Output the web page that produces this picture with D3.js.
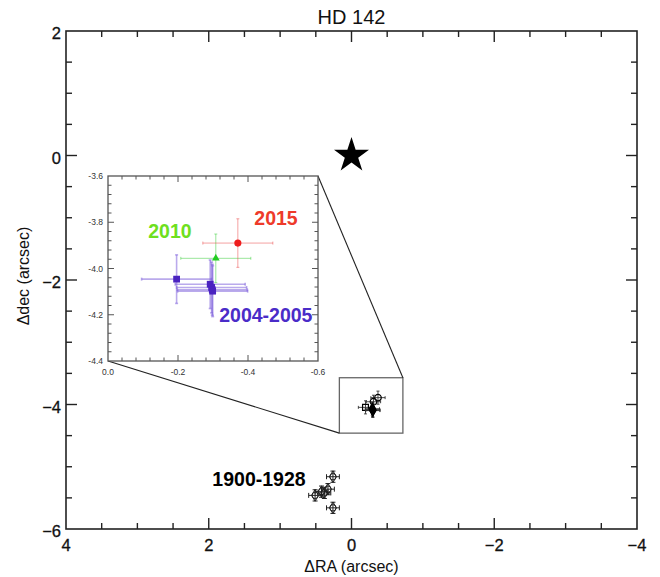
<!DOCTYPE html>
<html><head><meta charset="utf-8">
<script src="https://cdn.jsdelivr.net/npm/d3@7"></script>
<style>
html,body{margin:0;padding:0;background:#fff;}
svg{display:block;font-family:"Liberation Sans",Arial,sans-serif;}
</style></head>
<body><svg id="c" width="660" height="577"></svg>
<script>
// ---------------- data ----------------
const title = "HD 142";
const xTickVals = [4, 2, 0, -2, -4];
const yTickVals = [2, 0, -2, -4, -6];
const star = [{ra: 0, dec: 0}];
// 1900-1928 historical measurements (ΔRA, Δdec, errors)
const histRA  = [0.26, 0.33, 0.38, 0.42, 0.51, 0.26];
const histDec = [-5.16, -5.36, -5.42, -5.40, -5.46, -5.66];
const histErr = [0.09, 0.09, 0.09, 0.09, 0.09, 0.09];
// recent measurements
const p0405RA  = [-0.196, -0.292, -0.296, -0.298, -0.299];
const p0405Dec = [-4.046, -4.068, -4.082, -4.092, -4.098];
const p0405ErrRA  = [0.10, 0.10, 0.10, 0.10, 0.10];
const p0405ErrDec = [0.105, 0.105, 0.11, 0.11, 0.11];
const p2010RA = [-0.308], p2010Dec = [-3.956], p2010ErrRA = [0.10], p2010ErrDec = [0.105];
const p2015RA = [-0.371], p2015Dec = [-3.89],  p2015ErrRA = [0.10], p2015ErrDec = [0.105];
// zoom box in main plot (data units)
const boxRA = [0.17, -0.72];
const boxDec = [-3.57, -4.46];
// inset axes
const insetXTicks = [0.0, -0.2, -0.4, -0.6];
const insetYTicks = [-3.6, -3.8, -4.0, -4.2, -4.4];
const labels = [
  {text: "2015", color: "#ee3a2a", ra: -0.48, dec: -3.812},
  {text: "2010", color: "#6ee01e", ra: -0.177, dec: -3.866},
  {text: "2004-2005", color: "#4a2cc8", ra: -0.451, dec: -4.232}
];
const histLabel = {text: "1900-1928", ra: 1.296, dec: -5.31};

// ---------------- layout ----------------
const svg = d3.select("#c");
const x = d3.scaleLinear().domain([4, -4]).range([66, 637]);
const y = d3.scaleLinear().domain([2, -6]).range([31, 529]);
const ix = d3.scaleLinear().domain([0, -0.6]).range([108, 318]);
const iy = d3.scaleLinear().domain([-3.6, -4.4]).range([176, 361]);

const fmtMain = d => d === 0 ? "0" : (d < 0 ? "\u2212" + Math.abs(d) : String(d));

// main frame
const g = svg.append("g");
g.append("rect").attr("x", x(4)).attr("y", y(2)).attr("width", x(-4) - x(4)).attr("height", y(-6) - y(2))
  .attr("fill", "none").attr("stroke", "#222").attr("stroke-width", 1.6);

// ticks (all four sides, inward)
const xMinor = d3.range(-4, 4.001, 0.5);
const yMinor = d3.range(-6, 2.001, 0.5);
const isMajor = v => Math.abs(v / 2 - Math.round(v / 2)) < 1e-6;
xMinor.forEach(v => {
  const L = isMajor(v) ? 11 : 6;
  if (v === 4 || v === -4) return;
  g.append("line").attr("x1", x(v)).attr("x2", x(v)).attr("y1", y(-6)).attr("y2", y(-6) - L).attr("stroke", "#222").attr("stroke-width", 1.4);
  g.append("line").attr("x1", x(v)).attr("x2", x(v)).attr("y1", y(2)).attr("y2", y(2) + L).attr("stroke", "#222").attr("stroke-width", 1.4);
});
yMinor.forEach(v => {
  const L = isMajor(v) ? 11 : 6;
  if (v === 2 || v === -6) return;
  g.append("line").attr("y1", y(v)).attr("y2", y(v)).attr("x1", x(4)).attr("x2", x(4) + L).attr("stroke", "#222").attr("stroke-width", 1.4);
  g.append("line").attr("y1", y(v)).attr("y2", y(v)).attr("x1", x(-4)).attr("x2", x(-4) - L).attr("stroke", "#222").attr("stroke-width", 1.4);
});
// tick labels
g.selectAll(".xt").data(xTickVals).enter().append("text")
  .attr("x", d => x(d)).attr("y", 551).attr("text-anchor", "middle")
  .attr("font-size", 16.5).attr("fill", "#111").attr("stroke", "#111").attr("stroke-width", 0.3).text(fmtMain);
g.selectAll(".yt").data(yTickVals).enter().append("text")
  .attr("x", 61).attr("y", d => y(d) + 8).attr("text-anchor", "end")
  .attr("font-size", 16.5).attr("fill", "#111").attr("stroke", "#111").attr("stroke-width", 0.3).text(fmtMain);
// axis titles
g.append("text").attr("x", x(0)).attr("y", 572).attr("text-anchor", "middle").attr("font-size", 16).attr("fill", "#111").text("\u0394RA (arcsec)");
g.append("text").attr("transform", "translate(29," + 276 + ") rotate(-90)").attr("text-anchor", "middle").attr("font-size", 16).attr("fill", "#111").text("\u0394dec (arcsec)");
g.append("text").attr("x", x(0)).attr("y", 24).attr("text-anchor", "middle").attr("font-size", 20).attr("fill", "#111").text(title);

// star
g.selectAll(".star").data(star).enter().append("path")
  .attr("d", d3.symbol(d3.symbolStar, 380)())
  .attr("transform", d => "translate(" + x(d.ra) + "," + y(d.dec) + ")")
  .attr("fill", "#000");

// helper: error bars with caps
function errBar(sel, cx, cy, ex0, ex1, ey0, ey1, color, width, cap) {
  sel.append("line").attr("x1", ex0).attr("x2", ex1).attr("y1", cy).attr("y2", cy).attr("stroke", color).attr("stroke-width", width);
  sel.append("line").attr("x1", cx).attr("x2", cx).attr("y1", ey0).attr("y2", ey1).attr("stroke", color).attr("stroke-width", width);
  [ex0, ex1].forEach(e => sel.append("line").attr("x1", e).attr("x2", e).attr("y1", cy - cap).attr("y2", cy + cap).attr("stroke", color).attr("stroke-width", width));
  [ey0, ey1].forEach(e => sel.append("line").attr("y1", e).attr("y2", e).attr("x1", cx - cap).attr("x2", cx + cap).attr("stroke", color).attr("stroke-width", width));
}

// historical points
const hg = g.append("g");
histRA.forEach((r, i) => {
  const cx = x(r), cy = y(histDec[i]), e = histErr[i];
  errBar(hg, cx, cy, x(r + e), x(r - e), y(histDec[i] + e), y(histDec[i] - e), "#222", 1, 2.5);
  hg.append("path").attr("d", d3.symbol(d3.symbolDiamond, 40)()).attr("transform", "translate(" + cx + "," + cy + ")")
    .attr("fill", "none").attr("stroke", "#222").attr("stroke-width", 1);
  hg.append("circle").attr("cx", cx).attr("cy", cy).attr("r", 3.2).attr("fill", "none").attr("stroke", "#222").attr("stroke-width", 1);
});
g.append("text").attr("x", x(histLabel.ra)).attr("y", y(histLabel.dec)).attr("text-anchor", "middle")
  .attr("font-size", 19.5).attr("font-weight", "bold").attr("fill", "#000").text(histLabel.text);

// recent points in main (black)
const rg = g.append("g");
function mainPts(ras, decs, eRA, eDec, filled, sym) {
  ras.forEach((r, i) => {
    errBar(rg, x(r), y(decs[i]), x(r + eRA[i]), x(r - eRA[i]), y(decs[i] + eDec[i]), y(decs[i] - eDec[i]), "#333", 0.9, 1.5);
  });
  ras.forEach((r, i) => {
    rg.append("path").attr("d", d3.symbol(sym, 34)()).attr("transform", "translate(" + x(r) + "," + y(decs[i]) + ")")
      .attr("fill", filled ? "#000" : "none").attr("stroke", "#000").attr("stroke-width", 1.2);
  });
}
mainPts(p2015RA, p2015Dec, p2015ErrRA, p2015ErrDec, false, d3.symbolCircle);
mainPts(p2010RA, p2010Dec, p2010ErrRA, p2010ErrDec, false, d3.symbolCircle);
mainPts(p0405RA.slice(0, 1), p0405Dec.slice(0, 1), p0405ErrRA.slice(0, 1), p0405ErrDec.slice(0, 1), false, d3.symbolSquare);
mainPts(p0405RA.slice(1), p0405Dec.slice(1), p0405ErrRA.slice(1), p0405ErrDec.slice(1), true, d3.symbolDiamond);

// zoom box
g.append("rect").attr("x", x(boxRA[0])).attr("y", y(boxDec[0]))
  .attr("width", x(boxRA[1]) - x(boxRA[0])).attr("height", y(boxDec[1]) - y(boxDec[0]))
  .attr("fill", "none").attr("stroke", "#666").attr("stroke-width", 1.3);
// connector lines
g.append("line").attr("x1", ix(-0.6)).attr("y1", iy(-3.6)).attr("x2", x(boxRA[1])).attr("y2", y(boxDec[0])).attr("stroke", "#222").attr("stroke-width", 1.1);
g.append("line").attr("x1", ix(0)).attr("y1", iy(-4.4)).attr("x2", x(boxRA[0])).attr("y2", y(boxDec[1])).attr("stroke", "#222").attr("stroke-width", 1.1);

// ---------------- inset ----------------
const ig = svg.append("g");
ig.append("rect").attr("x", ix(0)).attr("y", iy(-3.6)).attr("width", ix(-0.6) - ix(0)).attr("height", iy(-4.4) - iy(-3.6))
  .attr("fill", "#fff").attr("stroke", "#555").attr("stroke-width", 1.3);
const ixMinor = d3.range(0, 16).map(k => -k * 0.04);
const iyMinor = d3.range(0, 21).map(k => -3.6 - k * 0.04);
ixMinor.forEach((v, k) => {
  if (k === 0 || k === ixMinor.length - 1) return;
  const L = (k % 5 === 0) ? 6 : 3.5;
  ig.append("line").attr("x1", ix(v)).attr("x2", ix(v)).attr("y1", iy(-4.4)).attr("y2", iy(-4.4) - L).attr("stroke", "#555");
  ig.append("line").attr("x1", ix(v)).attr("x2", ix(v)).attr("y1", iy(-3.6)).attr("y2", iy(-3.6) + L).attr("stroke", "#555");
});
iyMinor.forEach((v, k) => {
  if (k === 0 || k === iyMinor.length - 1) return;
  const L = (k % 5 === 0) ? 6 : 3.5;
  ig.append("line").attr("y1", iy(v)).attr("y2", iy(v)).attr("x1", ix(0)).attr("x2", ix(0) + L).attr("stroke", "#555");
  ig.append("line").attr("y1", iy(v)).attr("y2", iy(v)).attr("x1", ix(-0.6)).attr("x2", ix(-0.6) - L).attr("stroke", "#555");
});
ig.selectAll(".ixt").data(insetXTicks).enter().append("text")
  .attr("x", d => ix(d)).attr("y", iy(-4.4) + 14).attr("text-anchor", "middle")
  .attr("font-size", 8.5).attr("fill", "#333").text(d => d3.format(".1f")(d).replace("\u2212", "-"));
ig.selectAll(".iyt").data(insetYTicks).enter().append("text")
  .attr("x", ix(0) - 5).attr("y", d => iy(d) + 3).attr("text-anchor", "end")
  .attr("font-size", 8.5).attr("fill", "#333").text(d => d3.format(".1f")(d).replace("\u2212", "-"));

function insetSeries(ras, decs, eRA, eDec, barColor, barW, markColor, sym, size) {
  ras.forEach((r, i) => {
    const cx = ix(r), cy = iy(decs[i]);
    errBar(ig, cx, cy, ix(r + eRA[i]), ix(r - eRA[i]), iy(decs[i] + eDec[i]), iy(decs[i] - eDec[i]), barColor, barW, 1.5);
  });
  ras.forEach((r, i) => {
    ig.append("path").attr("d", d3.symbol(sym, size)()).attr("transform", "translate(" + ix(r) + "," + iy(decs[i]) + ")")
      .attr("fill", markColor);
  });
}
insetSeries(p0405RA, p0405Dec, p0405ErrRA, p0405ErrDec, "rgba(130,100,220,0.55)", 1.6, "#4a22c0", d3.symbolSquare, 46);
insetSeries(p2010RA, p2010Dec, p2010ErrRA, p2010ErrDec, "rgba(70,210,70,0.55)", 1, "#22cc22", d3.symbolTriangle, 26);
insetSeries(p2015RA, p2015Dec, p2015ErrRA, p2015ErrDec, "rgba(235,70,70,0.5)", 1, "#ee1c1c", d3.symbolCircle, 40);

ig.selectAll(".lab").data(labels).enter().append("text")
  .attr("x", d => ix(d.ra)).attr("y", d => iy(d.dec)).attr("text-anchor", "middle")
  .attr("font-size", 19.5).attr("font-weight", "bold").attr("fill", d => d.color).text(d => d.text);
</script></body></html>
